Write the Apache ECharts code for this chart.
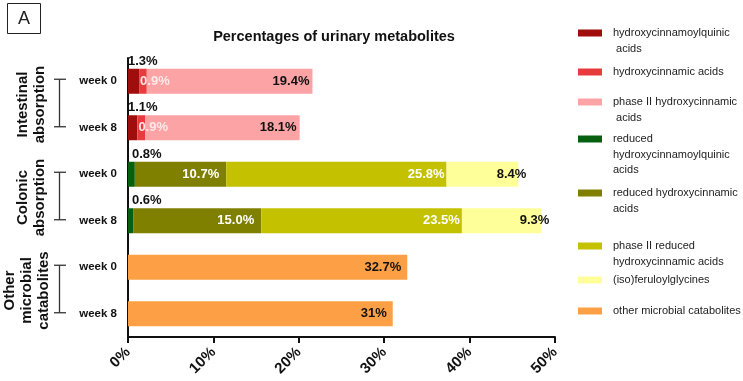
<!DOCTYPE html>
<html>
<head>
<meta charset="utf-8">
<script src="https://cdn.jsdelivr.net/npm/echarts@6/dist/echarts.min.js"></script>
<style>
  html, body { margin: 0; padding: 0; background: #fff; }
  #chart { width: 743px; height: 381px; }
</style>
</head>
<body>
<div id="chart"></div>
<script>
// rows, top to bottom
var rowKeys = ['int-0', 'int-8', 'col-0', 'col-8', 'oth-0', 'oth-8'];
var rowLabels = ['week 0', 'week 8', 'week 0', 'week 8', 'week 0', 'week 8'];

// percentages per metabolite class (null = not part of that row)
var hydroxycinnamoylquinic = [1.3, 1.1, null, null, null, null];
var hydroxycinnamic = [0.9, 0.9, null, null, null, null];
var phase2Hydroxycinnamic = [19.4, 18.1, null, null, null, null];
var reducedQuinic = [null, null, 0.8, 0.6, null, null];
var reducedHydroxycinnamic = [null, null, 10.7, '15.0', null, null];
var phase2Reduced = [null, null, 25.8, 23.5, null, null];
var feruloylglycines = [null, null, 8.4, 9.3, null, null];
var otherCatabolites = [null, null, null, null, 32.7, 31];

var xTicks = { min: 0, max: 50, interval: 10 };

var groups = [
    { text: 'Intestinal\nabsorption', x: 31, from: 0, to: 1 },
    { text: 'Colonic\nabsorption', x: 31, from: 2, to: 3 },
    { text: 'Other\nmicrobial\ncatabolites', x: 27, from: 4, to: 5 }
];

var FONT = '"Liberation Sans", Arial, sans-serif';

var seriesDefs = [
    { name: 'hydroxycinnamoylquinic\n acids', data: hydroxycinnamoylquinic, color: '#a00d0d',
      label: { position: [0, -14], color: '#111' } },
    { name: 'hydroxycinnamic acids', data: hydroxycinnamic, color: '#e83b3e',
      label: { position: 'insideLeft', distance: 1, color: '#ffe8e8' } },
    { name: 'phase II hydroxycinnamic\n acids', data: phase2Hydroxycinnamic, color: '#fca3a5',
      label: { position: 'insideRight', distance: 3, color: '#111' } },
    { name: 'reduced\nhydroxycinnamoylquinic\nacids', data: reducedQuinic, color: '#07600f',
      label: { position: [4, -14], color: '#111' } },
    { name: 'reduced hydroxycinnamic\nacids', data: reducedHydroxycinnamic, color: '#808000',
      label: { position: 'insideRight', distance: 7, color: '#fff' } },
    { name: 'phase II reduced\nhydroxycinnamic acids', data: phase2Reduced, color: '#c4c200',
      label: { position: 'insideRight', distance: 2, color: '#fff' } },
    { name: '(iso)feruloylglycines', data: feruloylglycines, color: '#ffff99',
      label: { position: 'insideRight', distance: 0, offset: [8, 0], color: '#111' } },
    { name: 'other microbial catabolites', data: otherCatabolites, color: '#fda045',
      label: { position: 'insideRight', distance: 6, color: '#111' } }
];

var legendY = [33, 72, 102, 139, 193, 246, 280, 311];
var LH = 15.5;

var chart = echarts.init(document.getElementById('chart'));

var grid = { left: 128, right: 188, top: 58, bottom: 44 };
var band = (381 - grid.top - grid.bottom) / rowKeys.length;
function rowY(i) { return grid.top + band * (i + 0.5); }

var graphics = [
    { type: 'rect', shape: { x: 7.5, y: 3.5, width: 33, height: 30 },
      style: { fill: 'none', stroke: '#222', lineWidth: 1 } },
    { type: 'text', x: 24, y: 19,
      style: { text: 'A', fontSize: 18, fontFamily: FONT, fill: '#222', align: 'center', verticalAlign: 'middle' } }
];
groups.forEach(function (g) {
    var y1 = rowY(g.from) - 2, y2 = rowY(g.to) - 1;
    graphics.push({ type: 'line', shape: { x1: 59.5, y1: y1, x2: 59.5, y2: y2 }, style: { stroke: '#333', lineWidth: 1.3 } });
    graphics.push({ type: 'line', shape: { x1: 54, y1: y1, x2: 66, y2: y1 }, style: { stroke: '#333', lineWidth: 1.3 } });
    graphics.push({ type: 'line', shape: { x1: 54, y1: y2, x2: 66, y2: y2 }, style: { stroke: '#333', lineWidth: 1.3 } });
    graphics.push({
        type: 'text', x: g.x, y: (rowY(g.from) + rowY(g.to)) / 2, rotation: Math.PI / 2,
        style: { text: g.text, fontSize: 15, fontWeight: 'bold', fontFamily: FONT, fill: '#111',
                 align: 'center', verticalAlign: 'middle', lineHeight: 17 }
    });
});

var option = {
    animation: false,
    title: {
        text: 'Percentages of urinary metabolites',
        left: 329, top: 24, textAlign: 'center',
        textStyle: { fontSize: 14.5, fontWeight: 'bold', fontFamily: FONT, color: '#111' }
    },
    // one legend per entry so the swatch sits on the first line of the text
    legend: seriesDefs.map(function (s, i) {
        var n = s.name.split('\n').length;
        return {
            data: [s.name],
            left: 578, top: legendY[i] - (2 * n - 1) * LH / 2,
            padding: 0, itemGap: 0,
            icon: 'rect', itemWidth: 24, itemHeight: 7,
            selectedMode: false,
            formatter: function (name) { return new Array(n).join('\n') + name; },
            textStyle: { fontSize: 11, fontFamily: FONT, color: '#222', lineHeight: LH,
                         padding: [0, 0, 0, 6] }
        };
    }),
    grid: grid,
    xAxis: {
        type: 'value', min: xTicks.min, max: xTicks.max, interval: xTicks.interval,
        axisLine: { show: true, lineStyle: { color: '#111', width: 2 } },
        axisTick: { show: true, length: 6, lineStyle: { color: '#111', width: 2 } },
        splitLine: { show: false },
        axisLabel: { rotate: 45, margin: 13, formatter: '{value}%', fontSize: 15, fontWeight: 'bold',
                     fontFamily: FONT, color: '#111' }
    },
    yAxis: {
        type: 'category', inverse: true, data: rowKeys,
        axisLine: { lineStyle: { color: '#111', width: 2 } },
        axisTick: { length: 5, alignWithLabel: true, lineStyle: { color: '#111', width: 1.5 } },
        axisLabel: { margin: 11, fontSize: 11.5, fontWeight: 'bold', fontFamily: FONT, color: '#111',
                     formatter: function (v, i) { return rowLabels[i]; } }
    },
    graphic: graphics,
    series: seriesDefs.map(function (s) {
        return {
            name: s.name, type: 'bar', stack: 'total', barWidth: 25,
            data: s.data,
            itemStyle: { color: s.color },
            label: Object.assign({
                show: true, fontSize: 13, fontWeight: 'bold', fontFamily: FONT,
                formatter: function (p) { return p.value + '%'; }
            }, s.label)
        };
    })
};

chart.setOption(option);
</script>
</body>
</html>
